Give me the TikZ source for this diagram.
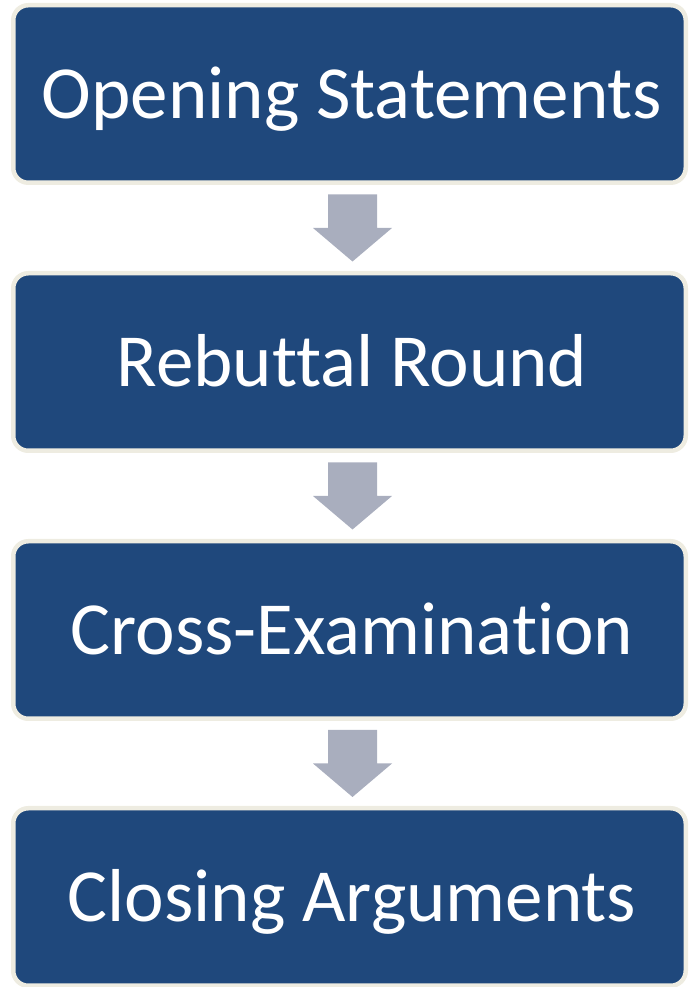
\documentclass[tikz,border=0pt]{standalone}
\usepackage{fontspec}
\setmainfont[Ligatures=NoCommon]{Carlito}
\usetikzlibrary{calc}

\definecolor{boxblue}{HTML}{1F487C}
\definecolor{boxrim}{HTML}{EEECE1}
\definecolor{arrowgray}{HTML}{A9AEBE}

\tikzset{
    stagebox/.style={draw=boxrim, line width=4.5pt, fill=boxblue, rounded corners=15pt,
        minimum width=672.5pt, minimum height=177.5pt, inner sep=0pt,
        text=white, font=\fontsize{75}{88}\selectfont, text height=49pt, text depth=0pt},
    flowarrow/.style={fill=arrowgray}
}

\begin{document}
\begin{tikzpicture}[x=1pt, y=1pt]
    \useasboundingbox (0,0) rectangle (689,987);
    \node [stagebox] (opening) at (349.5,893) {\hspace*{5pt}Opening Statements};
    \node [stagebox] (rebuttal) at (349.5,625) {\hspace*{5pt}Rebuttal Round};
    \node [stagebox] (cross) at (349.5,357) {\hspace*{5pt}Cross-Examination};
    \node [stagebox] (closing) at (349.5,90) {\hspace*{5pt}Closing Arguments};
    % block arrows between the stages
    \foreach \from/\to [count=\i] in {opening/rebuttal, rebuttal/cross, cross/closing} {
        \coordinate (mid\i) at ($(\from.south)!0.5!(\to.north) + (3,0)$);
        \fill [flowarrow] ($(mid\i)+(-24.5,33.5)$) -- ($(mid\i)+(24.5,33.5)$)
            -- ($(mid\i)+(24.5,0)$) -- ($(mid\i)+(39.5,0)$) -- ($(mid\i)+(0,-33.5)$)
            -- ($(mid\i)+(-39.5,0)$) -- ($(mid\i)+(-24.5,0)$) -- cycle;
    }
\end{tikzpicture}
\end{document}
